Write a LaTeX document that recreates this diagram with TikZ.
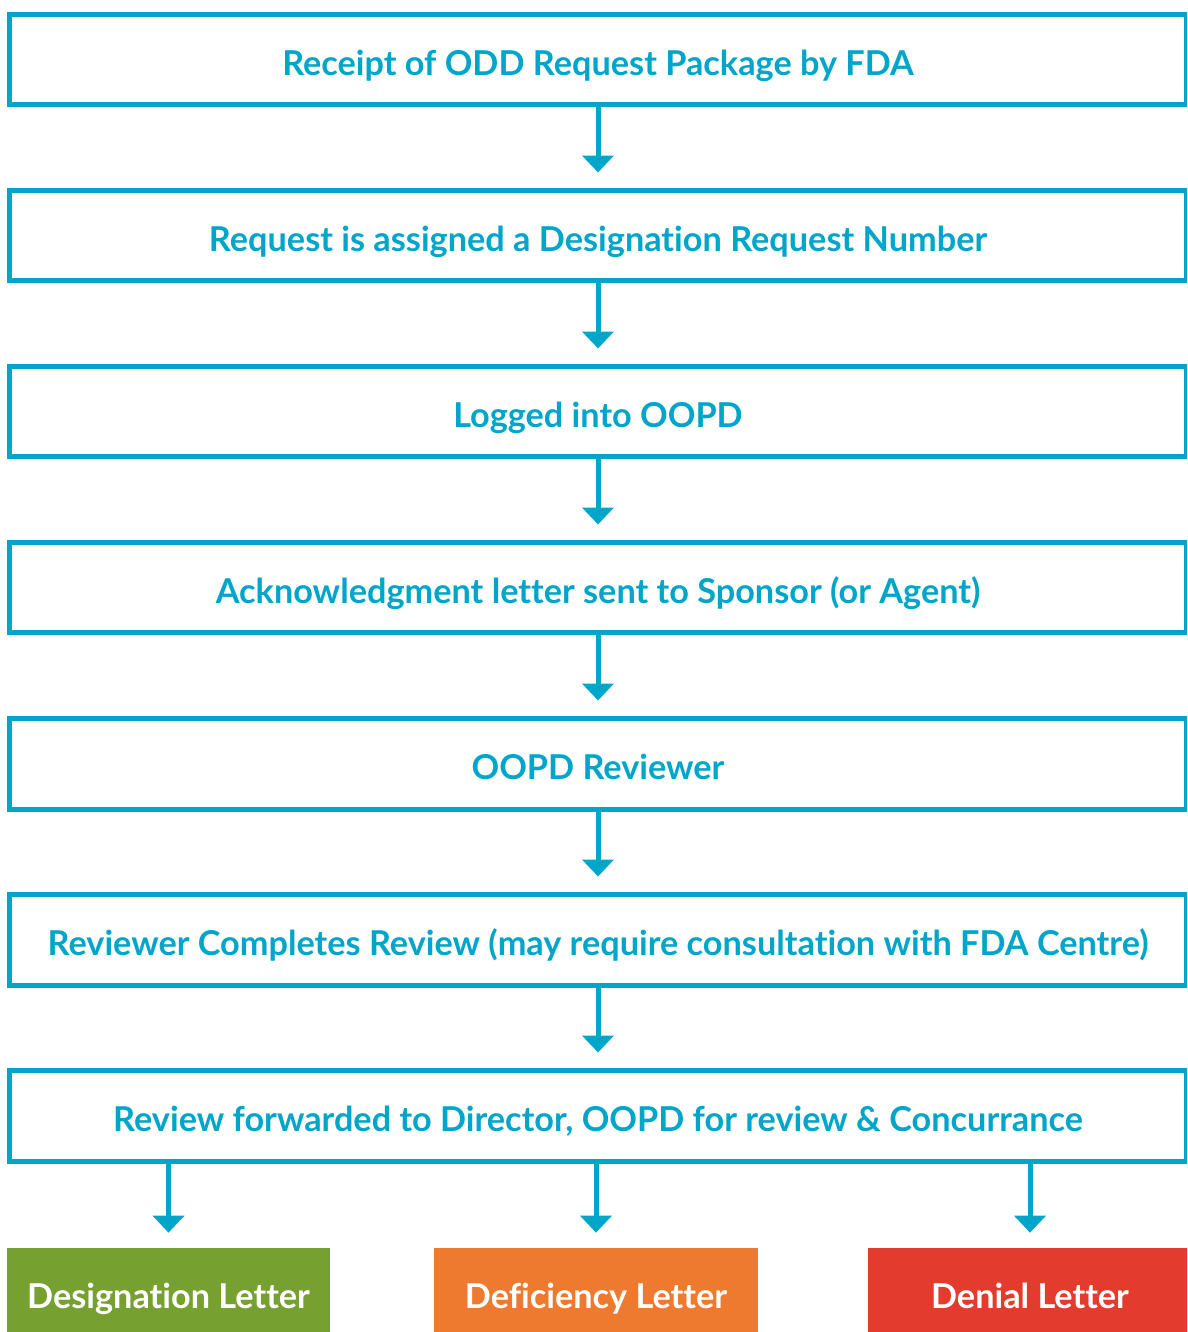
\documentclass[tikz,border=0pt]{standalone}
\usepackage{fontspec}
\setmainfont{Lato}[Ligatures=CommonOff]
\usepackage{tikz}
\usetikzlibrary{arrows.meta,positioning,calc}
\definecolor{myteal}{HTML}{00A6C9}
\definecolor{mygreen}{HTML}{76A030}
\definecolor{myorange}{HTML}{EE7A30}
\definecolor{myred}{HTML}{E33B2E}
\tikzset{
  flowbox/.style={draw=myteal, line width=0.1cm, fill=white, minimum width=23.54cm, minimum height=1.82cm,
              text=myteal, font=\fontsize{19.5}{23}\selectfont\bfseries, inner sep=0pt,
              text height=18.3pt, text depth=0.4pt},
  letterbox/.style={draw=none, minimum width=6.48cm, minimum height=1.96cm, text=white,
              font=\fontsize{19.5}{23}\selectfont\bfseries, inner sep=0pt,
              text height=17.3pt, text depth=3.8pt},
  arr/.style={-{Triangle[width=0.62cm, length=0.34cm]}, line width=0.1cm, draw=myteal, shorten >=0.3cm},
}
\begin{document}
\begin{tikzpicture}[x=0.02cm, y=-0.02cm]
        \clip (0,0) rectangle (1187,1332);
        \useasboundingbox (0,0) rectangle (1187,1332);
        \node[flowbox] (s1) at (598,59.5) {Receipt of ODD Request Package by FDA};
        \node[flowbox] (s2) at (598,235.5) {Request is assigned a Designation Request Number};
        \node[flowbox] (s3) at (598,411.5) {Logged into OOPD};
        \node[flowbox] (s4) at (598,587.5) {Acknowledgment letter sent to Sponsor (or Agent)};
        \node[flowbox] (s5) at (598,763.5) {OOPD Reviewer};
        \node[flowbox] (s6) at (598,939.5) {Reviewer Completes Review (may require consultation with FDA Centre)};
        \node[flowbox] (s7) at (598,1115.5) {Review forwarded to Director, OOPD for review \& Concurrance};
        \node[letterbox, fill=mygreen] (dl) at (168.5,1297) {Designation Letter};
        \node[letterbox, fill=myorange] (fl) at (596,1297) {Deficiency Letter};
        \node[letterbox, fill=myred] (nl) at (1030,1297) {Denial Letter};
        \draw[arr] (s1) -- (s2); \draw[arr] (s2) -- (s3); \draw[arr] (s3) -- (s4);
        \draw[arr] (s4) -- (s5); \draw[arr] (s5) -- (s6); \draw[arr] (s6) -- (s7);
        \draw[arr] (s7.south -| dl.north) -- (dl.north);
        \draw[arr] (s7.south -| fl.north) -- (fl.north);
        \draw[arr] (s7.south -| nl.north) -- (nl.north);
      \end{tikzpicture}
\end{document}
